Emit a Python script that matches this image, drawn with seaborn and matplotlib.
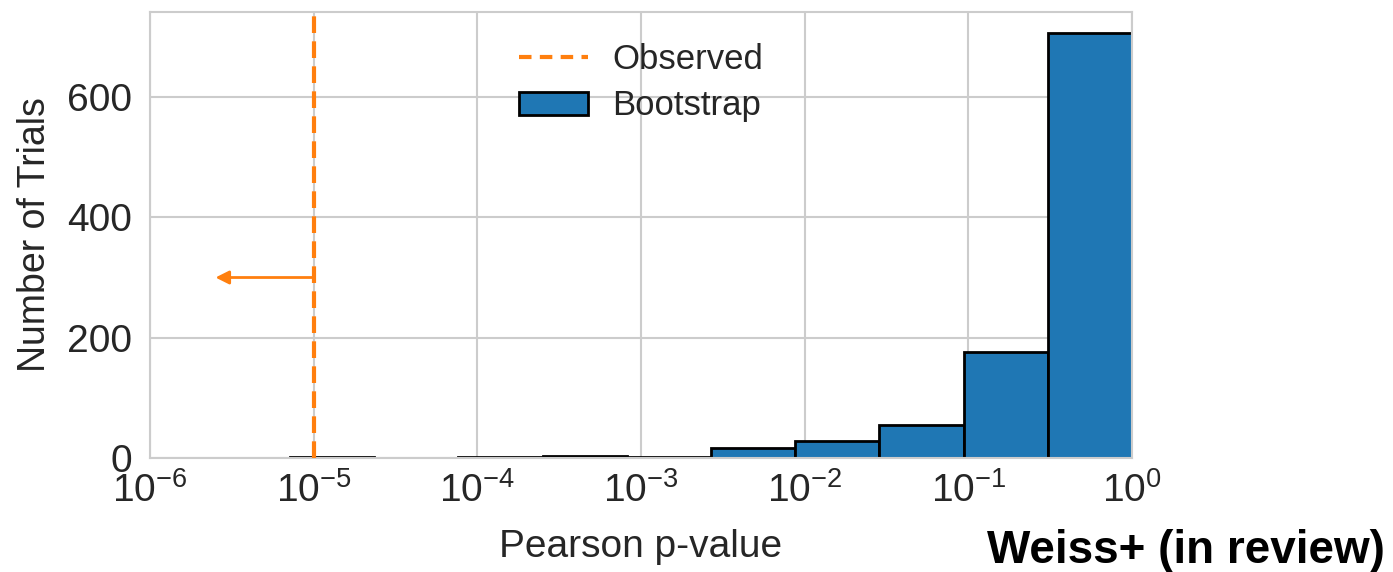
import numpy as np
import pandas as pd
import matplotlib
matplotlib.use("Agg")
import matplotlib.pyplot as plt
from matplotlib.lines import Line2D
from matplotlib.patches import Patch
import seaborn as sns

# ---- data ----
log_lo, log_hi = -5.145, 0.0          # log10 range of histogram bins
n_bins = 10
counts = [1, 0, 1, 4, 2, 16, 28, 55, 176, 706]
observed_p = 1e-5
arrow_y = 300
arrow_tip_log = -5.6
x_ticks = [1e-6, 1e-5, 1e-4, 1e-3, 1e-2, 1e-1, 1e0]
y_ticks = [0, 200, 400, 600]

edges = np.linspace(log_lo, log_hi, n_bins + 1)
centers = 10 ** ((edges[:-1] + edges[1:]) / 2)
df = pd.DataFrame({"p": centers, "n": counts})

sns.set_theme(style="whitegrid")
plt.rcParams["font.family"] = ["Liberation Sans", "DejaVu Sans"]
plt.rcParams["mathtext.fontset"] = "dejavusans"

fig = plt.figure(figsize=(13.93, 5.72), dpi=100)
ax = fig.add_axes([150/1393, 1-458/572, (1132-150)/1393, (458-12)/572])

orange = "#ff7f0e"
blue = "#1f77b4"

ax.axvline(observed_p, color=orange, ls="--", lw=3, dashes=(4, 2), zorder=3)
sns.histplot(data=df, x="p", weights="n", bins=n_bins, binrange=(log_lo, log_hi),
             log_scale=True, color=blue, alpha=1, edgecolor="black", linewidth=2,
             ax=ax, zorder=2)

ax.annotate("", xy=(10 ** arrow_tip_log, arrow_y), xytext=(observed_p, arrow_y),
            arrowprops=dict(arrowstyle="-|>", color=orange, lw=2, mutation_scale=20,
                            shrinkA=0, shrinkB=0))

ax.set_xscale("log")
ax.set_xlim(1e-6, 1e0)
ax.set_xticks(x_ticks)
ax.xaxis.set_minor_locator(matplotlib.ticker.NullLocator())
ax.set_yticks(y_ticks)
ax.tick_params(axis="x", labelsize=28, length=0, pad=10)
ax.tick_params(axis="y", labelsize=28, length=0, pad=13)
ax.set_xlabel("Pearson p-value", fontsize=28, color="#262626", labelpad=14)
ax.set_ylabel("Number of Trials", fontsize=27, color="#262626", labelpad=10)
for s in ax.spines.values():
    s.set_color("#cccccc")
    s.set_linewidth(1.5)
ax.grid(True, color="#cccccc", lw=1.5)

handles = [Line2D([0], [0], color=orange, ls="--", lw=3, dashes=(3, 2)),
           Patch(facecolor=blue, edgecolor="black", linewidth=2)]
ax.legend(handles, ["Observed", "Bootstrap"], loc="upper center", frameon=False,
          fontsize=25, handlelength=2.0, handleheight=0.66, handletextpad=0.7,
          labelspacing=0.38, bbox_to_anchor=(0.5, 1.0))

fig.text(0.994, 1 - 551/572, "Weiss+ (in review)", ha="right", va="center",
         fontsize=33, fontweight="bold", color="black")

fig.savefig("out.png", dpi=100)
